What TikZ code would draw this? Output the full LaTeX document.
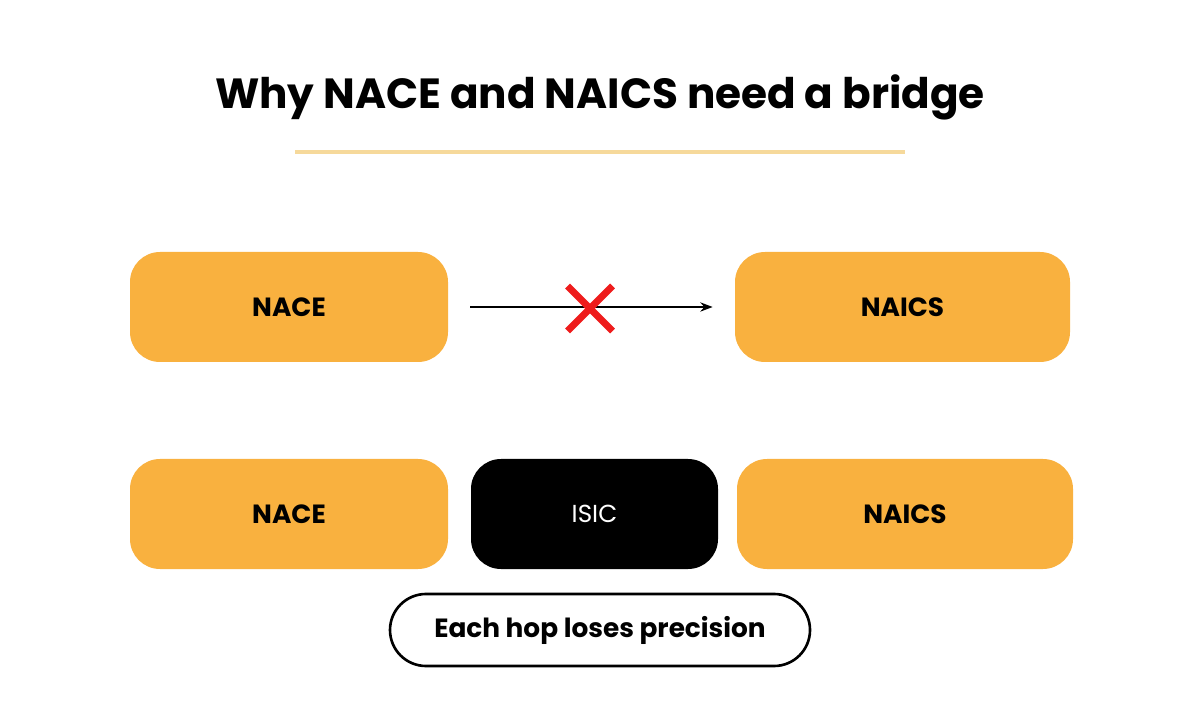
\documentclass[tikz,border=0pt]{standalone}
\usepackage{fontspec}
\setmainfont{Poppins}
\usetikzlibrary{positioning,arrows.meta}
\definecolor{boxorange}{HTML}{F9B13F}
\definecolor{lineyellow}{HTML}{F6D99B}
\definecolor{crossred}{HTML}{EE1C1C}
\tikzset{
    code/.style={rounded corners=0.6cm, fill=boxorange, minimum height=2.2cm, font=\fontsize{15}{18}\selectfont\bfseries},
    hub/.style={rounded corners=0.6cm, fill=black, text=white, minimum height=2.2cm, minimum width=4.94cm, font=\fontsize{14}{17}\selectfont},
}
\begin{document}
\begin{tikzpicture}
    \useasboundingbox (0,0) rectangle (24,14);
    %------------Titulo----------
    \node (title) at (12,12.06) {\fontsize{24}{28}\selectfont\bfseries Why NACE and NAICS need a bridge};
    \draw[lineyellow, line width=2.2pt] (5.9,10.96) -- (18.1,10.96);
    %------------Directo----------
    \node[code, minimum width=6.36cm] (nace1) at (5.78,7.86) {NACE};
    \node[code, minimum width=6.7cm] (naics1) at (18.05,7.86) {NAICS};
    \draw[line width=1.5pt, -{Stealth[length=7pt]}] ([xshift=0.44cm]nace1.east) -- ([xshift=-0.44cm]naics1.west);
    \draw[crossred, line width=4pt] (11.35,8.28) -- (12.25,7.38) (11.35,7.38) -- (12.25,8.28);
    %------------Via ISIC----------
    \node[code, minimum width=6.36cm] (nace2) at (5.78,3.72) {NACE};
    \node[hub] (isic) at (11.89,3.72) {ISIC};
    \node[code, minimum width=6.72cm] (naics2) at (18.1,3.72) {NAICS};
    \node[draw, line width=1.5pt, fill=white, rounded corners=0.72cm, minimum width=8.4cm, minimum height=1.44cm,
          font=\fontsize{15}{18}\selectfont\bfseries] (hop) at (12,1.4) {Each hop loses precision};
\end{tikzpicture}
\end{document}
